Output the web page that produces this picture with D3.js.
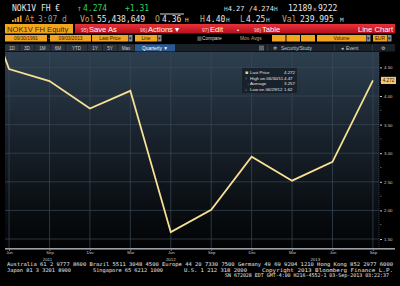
<!DOCTYPE html>
<html lang="en">
<head>
<meta charset="UTF-8">
<title>NOK1V FH Equity - Line Chart</title>
<script src="https://d3js.org/d3.v7.min.js"></script>
<style>
    body, html {
        margin: 0;
        padding: 0;
        background: #000;
        overflow: hidden;
    }
    svg {
        display: block;
        font-family: "DejaVu Sans Mono", monospace;
    }
    .tb {
        font-family: "Liberation Sans", Arial, sans-serif;
    }
    .axis-label {
        font-size: 4.4px;
        fill: #c8c8c8;
    }
</style>
</head>
<body>
<svg width="400" height="286"></svg>
<script>
// chart data (quarterly last price, EUR)
const quarterDates = ["2011-03-31", "2011-06-30", "2011-09-30", "2011-12-30", "2012-03-30", "2012-06-29",
    "2012-09-28", "2012-12-31", "2013-03-28", "2013-06-28", "2013-09-03"];
const lastPrices = [6.40, 4.47, 4.26, 3.78, 4.09, 1.62, 2.01, 2.94, 2.52, 2.85, 4.272];
const monthLabels = ["Mar", "Jun", "Sep", "Dec", "Mar", "Jun", "Sep", "Dec", "Mar", "Jun", "Sep"];
const priceTicks = [1.5, 2.0, 2.5, 3.0, 3.5, 4.0, 4.5];
const legendNames = ["Last Price", "High on 06/30/11", "Average", "Low on 06/29/12"];
const legendValues = ["4.272", "4.47", "3.257", "1.62"];
const periodButtons = ["1D", "3D", "1M", "6M", "YTD", "1Y", "5Y", "Max"];

const svg = d3.select("svg");
const W = 400, H = 286;
const plot = {left: 5, right: 379, top: 52, bottom: 248};

const defs = svg.append("defs");
const grad = defs.append("linearGradient").attr("id", "bg").attr("x1", 0).attr("y1", 0).attr("x2", 0).attr("y2", 1);
grad.append("stop").attr("offset", "0%").attr("stop-color", "#2d3f4f");
grad.append("stop").attr("offset", "45%").attr("stop-color", "#18212b");
grad.append("stop").attr("offset", "100%").attr("stop-color", "#020304");
const redGrad = defs.append("linearGradient").attr("id", "red").attr("x1", 0).attr("y1", 0).attr("x2", 0).attr("y2", 1);
redGrad.append("stop").attr("offset", "0%").attr("stop-color", "#e8323a");
redGrad.append("stop").attr("offset", "100%").attr("stop-color", "#b4101c");
defs.append("clipPath").attr("id", "clip").append("rect")
    .attr("x", plot.left).attr("y", plot.top)
    .attr("width", plot.right - plot.left).attr("height", plot.bottom - plot.top);

svg.append("rect").attr("width", W).attr("height", H).attr("fill", "#000");

// ---------- quote header ----------
const hdr = svg.append("g").attr("font-size", 8);
function txt(g, x, y, s, color, size) {
    return g.append("text").attr("x", x).attr("y", y).attr("fill", color)
        .attr("font-size", size || null).text(s);
}
txt(hdr, 12, 11, "NOK1V FH €", "#e8e8e8");
txt(hdr, 77, 11, "↑", "#2fd25a");
txt(hdr, 83, 11, "4.274", "#2fd25a");
txt(hdr, 125, 11, "+1.31", "#2fd25a");
// bid / ask in one text so the small "H" markers sit tight
const bidAsk = hdr.append("text").attr("x", 224).attr("y", 11).attr("fill", "#e8e8e8");
bidAsk.append("tspan").attr("font-size", 6).attr("fill", "#d0d0d0").text("H");
bidAsk.append("tspan").attr("font-size", 7).text("4.27 /4.274");
bidAsk.append("tspan").attr("font-size", 6).attr("fill", "#d0d0d0").text("H");
txt(hdr, 288, 11, "12189", "#e8e8e8");
txt(hdr, 313, 11, "x", "#d0d0d0", 6);
txt(hdr, 318, 11, "9222", "#e8e8e8");

// signal bars
[2, 3.5, 5, 6.5].forEach((h, i) => {
    hdr.append("rect").attr("x", 12 + i * 2.6).attr("y", 22 - h).attr("width", 1.8).attr("height", h).attr("fill", "#e89a20");
});
txt(hdr, 25, 22, "At", "#d8962a");
txt(hdr, 38, 22, "3:07 d", "#9a9a8a");
txt(hdr, 80, 22, "Vol", "#c8a872");
txt(hdr, 97, 22, "55,438,649", "#e8e8e8");
txt(hdr, 155, 22, "O", "#c8a872");
txt(hdr, 162, 22, "4.36", "#e8e8e8");
hdr.append("rect").attr("x", 160).attr("y", 13.5).attr("width", 24).attr("height", 1).attr("fill", "#d8d8d8");
txt(hdr, 185, 22, "H", "#d0d0d0", 6);
txt(hdr, 200, 22, "H", "#c8a872");
txt(hdr, 206, 22, "4.40", "#e8e8e8");
txt(hdr, 226, 22, "H", "#d0d0d0", 6);
txt(hdr, 240, 22, "L", "#c8a872");
txt(hdr, 246, 22, "4.25", "#e8e8e8");
txt(hdr, 266, 22, "H", "#d0d0d0", 6);
txt(hdr, 282, 22, "Val", "#c8a872");
txt(hdr, 300, 22, "239.995", "#e8e8e8");
txt(hdr, 340, 22, "M", "#d0d0d0", 6);

// ---------- toolbar ----------
const tb = svg.append("g").attr("class", "tb");
tb.append("rect").attr("x", 5).attr("y", 24).attr("width", 68).attr("height", 9.5).attr("fill", "#f2a51e");
txt(tb, 7, 31.8, "NOK1V FH Equity", "#3a2a10", 7.6);
tb.append("rect").attr("x", 75).attr("y", 24).attr("width", 320).attr("height", 9.5).attr("fill", "url(#red)");
[["95)", "Save As", 81], ["96)", "Actions ▾", 140], ["97)", "Edit", 202], ["98)", "Table", 254]].forEach(d => {
    txt(tb, d[2], 31.6, d[0], "#f4d4d4", 5);
    txt(tb, d[2] + 8, 31.8, d[1], "#ffffff", 7.6);
});
txt(tb, 237, 31.6, "•", "#ffffff", 6);
txt(tb, 393, 31.8, "Line Chart", "#ffffff", 7.6).attr("text-anchor", "end");

// row with date / field boxes
function box(x, w, label, fill, color) {
    tb.append("rect").attr("x", x).attr("y", 35).attr("width", w).attr("height", 6.5).attr("fill", fill);
    if (label) txt(tb, x + w / 2, 40.2, label, color || "#2a2010", 4.8).attr("text-anchor", "middle");
}
const orange = "#f2a51e", grey = "#8a8f96";
box(5, 42, "09/30/1991", orange);
box(47.5, 2.5, "-", "#111", "#ddd");
box(50, 41, "09/03/2013", orange);
box(92, 36, "Last Price", orange);
box(128.5, 4, "▾", grey, "#222");
box(135, 22, "Line", orange);
box(157.5, 4, "▾", grey, "#222");
txt(tb, 197, 40.2, "▥", "#c8c8c8", 4.8);
txt(tb, 202, 40.2, "Compare", "#dcdcdc", 4.8);
txt(tb, 240, 40.2, "Mov. Avgs", "#c8a872", 4.8);
box(272, 13.5, "", orange);
box(286.5, 13.5, "", orange);
box(301, 14, "", orange);
box(317, 49, "Volume", orange);
box(366.5, 4, "▾", grey, "#222");
box(373, 14, "EUR", orange);
box(387.5, 4, "▾", grey, "#222");

// period row
tb.append("rect").attr("x", 5).attr("y", 44).attr("width", 390).attr("height", 7.5).attr("fill", "#1b2128");
const btnX = [5, 20, 35, 51, 66, 88, 103, 118];
const btnW = [14, 14, 15, 14, 21, 14, 14, 16];
periodButtons.forEach((b, i) => {
    tb.append("rect").attr("x", btnX[i]).attr("y", 44.5).attr("width", btnW[i]).attr("height", 6.5).attr("fill", "#2c3239");
    txt(tb, btnX[i] + btnW[i] / 2, 49.6, b, "#c8ccd0", 4.6).attr("text-anchor", "middle");
});
tb.append("rect").attr("x", 135).attr("y", 44.3).attr("width", 40).attr("height", 7).attr("fill", "#2b5a92");
txt(tb, 155, 49.7, "Quarterly ▼", "#ffffff", 4.8).attr("text-anchor", "middle");
tb.append("rect").attr("x", 259).attr("y", 45.5).attr("width", 5).attr("height", 5).attr("fill", "#5c636b");
[267, 334, 372].forEach(x => tb.append("rect").attr("x", x).attr("y", 44.5).attr("width", 0.6).attr("height", 6.5).attr("fill", "#3a424b"));
txt(tb, 273, 49.7, "✲", "#c8ccd0", 4.8);
txt(tb, 281, 49.7, "Security/Study", "#c8ccd0", 4.8);
txt(tb, 341, 49.7, "◂", "#c8ccd0", 4.8);
txt(tb, 346, 49.7, "Event", "#c8ccd0", 4.8);
txt(tb, 381, 49.9, "⚙", "#c8ccd0", 5.4);

// ---------- chart ----------
const parse = d3.timeParse("%Y-%m-%d");
const data = quarterDates.map((d, i) => ({i: i, date: parse(d), price: lastPrices[i], month: monthLabels[i]}));

const x = d3.scaleLinear().domain([0.9, 10.15]).range([plot.left, plot.right]);
const y = d3.scaleLinear().domain([1.343, 4.769]).range([plot.bottom, plot.top]);

svg.append("rect").attr("x", plot.left).attr("y", plot.top)
    .attr("width", plot.right - plot.left).attr("height", plot.bottom - plot.top).attr("fill", "url(#bg)");

const grid = svg.append("g").attr("stroke", "#3b4956").attr("stroke-width", 0.7);
grid.selectAll("line.h").data(priceTicks).join("line").attr("class", "h")
    .attr("x1", plot.left).attr("x2", plot.right).attr("y1", d => y(d)).attr("y2", d => y(d));
grid.selectAll("line.v").data(data.filter(d => x(d.i) > plot.left)).join("line").attr("class", "v")
    .attr("y1", plot.top).attr("y2", plot.bottom).attr("x1", d => x(d.i)).attr("x2", d => x(d.i));
svg.append("line").attr("x1", plot.right).attr("x2", plot.right).attr("y1", plot.top).attr("y2", plot.bottom)
    .attr("stroke", "#4a5966").attr("stroke-width", 0.6).attr("stroke-dasharray", "1,1");

// legend box
const lg = svg.append("g").attr("class", "tb").attr("font-size", 4.4);
lg.append("rect").attr("x", 242).attr("y", 68).attr("width", 55).attr("height", 25)
    .attr("fill", "#16202a").attr("fill-opacity", 0.9);
const marks = ["■", "↑", "→", "↓"];
legendNames.forEach((n, i) => {
    const yy = 74 + i * 5.6;
    lg.append("text").attr("x", 245).attr("y", yy).attr("fill", i === 0 ? "#f5dc8c" : "#c8c8c8").attr("font-size", i === 0 ? 5 : 4.4).text(marks[i]);
    lg.append("text").attr("x", 250).attr("y", yy).attr("fill", "#e4e4e4").text(n);
    lg.append("text").attr("x", 284).attr("y", yy).attr("fill", "#e4e4e4").text(legendValues[i]);
});

// price line
const line = d3.line().x(d => x(d.i)).y(d => y(d.price));
svg.append("path").datum(data).attr("clip-path", "url(#clip)")
    .attr("d", line).attr("fill", "none").attr("stroke", "#f7df94").attr("stroke-width", 1.8)
    .attr("stroke-linejoin", "miter");

// right axis
const yAxis = svg.append("g").attr("class", "tb").attr("transform", `translate(${plot.right + 1},0)`)
    .call(d3.axisRight(y).tickValues(priceTicks).tickFormat(d3.format(".2f")).tickSize(2).tickPadding(2));
yAxis.select(".domain").remove();
yAxis.selectAll("text").attr("font-size", 4.4).attr("fill", "#c8c8c8");
yAxis.selectAll("line").attr("stroke", "#c8c8c8");
yAxis.selectAll("line.minor").data(priceTicks.slice(0, -1).map(v => v + 0.25)).join("line").attr("class", "minor")
    .attr("x1", 0).attr("x2", 1.5).attr("y1", d => y(d)).attr("y2", d => y(d)).attr("stroke", "#8a8a8a").attr("stroke-width", 0.6);

// last price tag
const last = data[data.length - 1];
svg.append("rect").attr("x", plot.right + 2).attr("y", y(last.price) - 3.6).attr("width", 15).attr("height", 7.2)
    .attr("fill", "#f3c76a");
svg.append("text").attr("class", "tb").attr("x", plot.right + 9.5).attr("y", y(last.price) + 1.6)
    .attr("text-anchor", "middle").attr("font-size", 4.6).attr("fill", "#222").text(d3.format(".3f")(last.price));

// x axis
svg.append("rect").attr("x", plot.left).attr("y", plot.bottom).attr("width", 390).attr("height", 1.6).attr("fill", "#9aa0a6");
const xAxis = svg.append("g").attr("class", "tb").attr("transform", `translate(0,${plot.bottom + 1.6})`)
    .call(d3.axisBottom(x).tickValues(data.filter(d => x(d.i) > plot.left).map(d => d.i))
        .tickFormat(i => monthLabels[i]).tickSize(1.2).tickPadding(0.6));
xAxis.select(".domain").remove();
xAxis.selectAll("text").attr("font-size", 4.2).attr("fill", "#c8c8c8");
xAxis.selectAll("line").attr("stroke", "#9aa0a6");

// year labels centred on the visible part of each year
const years = d3.groups(data, d => d.date.getFullYear());
years.forEach(([yr, rows], k) => {
    const lastIdx = d3.max(rows, d => d.i);
    const prevEnd = k === 0 ? x.domain()[0] : d3.max(years[k - 1][1], d => d.i);
    const x0 = Math.max(x(prevEnd), plot.left);
    const xe = k === years.length - 1 ? plot.right : Math.min(x(lastIdx), plot.right);
    svg.append("text").attr("class", "tb axis-label").attr("x", (x0 + xe) / 2).attr("y", 260.6)
        .attr("text-anchor", "middle").text(yr);
});

// ---------- footer ----------
const ft = svg.append("g").attr("font-size", 5.2).attr("fill", "#e8e8e8");
ft.append("text").attr("x", 7).attr("y", 266).attr("textLength", 386).attr("lengthAdjust", "spacingAndGlyphs")
    .text("Australia 61 2 9777 8600 Brazil 5511 3048 4500 Europe 44 20 7330 7500 Germany 49 69 9204 1210 Hong Kong 852 2977 6000");
[["Japan 81 3 3201 8900", 7, 64], ["Singapore 65 6212 1000", 93, 70], ["U.S. 1 212 318 2000", 184, 63],
    ["Copyright 2013 Bloomberg Finance L.P.", 262, 131]].forEach(d => {
    ft.append("text").attr("x", d[1]).attr("y", 271.6).attr("textLength", d[2]).attr("lengthAdjust", "spacingAndGlyphs").text(d[0]);
});
ft.append("text").attr("x", 225).attr("y", 277.2).attr("textLength", 164).attr("lengthAdjust", "spacingAndGlyphs")
    .text("SN 672028 EDT  GMT-4:00 H216-4552-1 03-Sep-2013 03:22:37");
</script>
</body>
</html>
